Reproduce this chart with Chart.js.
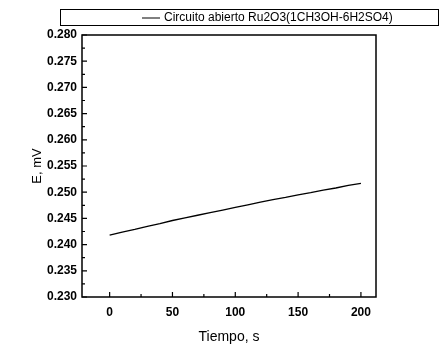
<!DOCTYPE html>
<html>
<head>
<meta charset="utf-8">
<script src="https://cdn.jsdelivr.net/npm/chart.js@4"></script>
<style>
  html, body { margin: 0; padding: 0; background: #fff; }
  #wrap { width: 440px; height: 350px; }
</style>
</head>
<body>
<div id="wrap"><canvas id="myChart" width="440" height="350"></canvas></div>
<script>
const seriesLabel = "Circuito abierto Ru2O3(1CH3OH-6H2SO4)";
const tiempo = [0, 10, 20, 30, 40, 50, 60, 70, 80, 90, 100, 110, 120, 130, 140, 150, 160, 170, 180, 190, 200];
const potencial = [0.2418, 0.2424, 0.2429, 0.2435, 0.2440, 0.2446, 0.2451, 0.2456, 0.2461, 0.2466, 0.2471,
  0.2476, 0.2481, 0.2486, 0.2490, 0.2495, 0.2499, 0.2504, 0.2508, 0.2513, 0.2517];
const xTicks = [0, 50, 100, 150, 200];
const yTicks = [0.230, 0.235, 0.240, 0.245, 0.250, 0.255, 0.260, 0.265, 0.270, 0.275, 0.280];

const FONT = "'Liberation Sans', Arial, sans-serif";

// frame, inward ticks and boxed legend, like the Origin plot
const framePlugin = {
  id: "frame",
  afterDraw(chart) {
    const ctx = chart.ctx;
    const a = chart.chartArea;
    const xs = chart.scales.x;
    const ys = chart.scales.y;
    ctx.save();
    ctx.strokeStyle = "#000";
    ctx.lineWidth = 1.5;
    ctx.strokeRect(a.left, a.top, a.right - a.left, a.bottom - a.top);

    ctx.lineWidth = 1.2;
    ctx.beginPath();
    xTicks.forEach((v, i) => {
      const px = xs.getPixelForValue(v);
      ctx.moveTo(px, a.bottom);
      ctx.lineTo(px, a.bottom - 5);
      if (i < xTicks.length - 1) {
        const mx = xs.getPixelForValue((v + xTicks[i + 1]) / 2);
        ctx.moveTo(mx, a.bottom);
        ctx.lineTo(mx, a.bottom - 3);
      }
    });
    yTicks.forEach((v, i) => {
      const py = ys.getPixelForValue(v);
      ctx.moveTo(a.left, py);
      ctx.lineTo(a.left + 5, py);
      if (i < yTicks.length - 1) {
        const my = ys.getPixelForValue((v + yTicks[i + 1]) / 2);
        ctx.moveTo(a.left, my);
        ctx.lineTo(a.left + 3, my);
      }
    });
    ctx.stroke();

    // legend box
    ctx.lineWidth = 1;
    ctx.strokeRect(60.5, 9.5, 378, 16);
    ctx.beginPath();
    ctx.moveTo(142, 18);
    ctx.lineTo(160, 18);
    ctx.stroke();
    ctx.fillStyle = "#000";
    ctx.font = "12px " + FONT;
    ctx.textBaseline = "middle";
    ctx.fillText(chart.data.datasets[0].label, 164, 18);
    ctx.restore();
  }
};

new Chart(document.getElementById("myChart"), {
  type: "line",
  data: {
    datasets: [
      {
        label: seriesLabel,
        data: tiempo.map((t, i) => ({ x: t, y: potencial[i] })),
        borderColor: "#000",
        borderWidth: 1.3,
        pointRadius: 0,
        tension: 0,
        fill: false,
      },
    ],
  },
  options: {
    responsive: false,
    animation: false,
    layout: { padding: { left: 30, right: 64, top: 35, bottom: 4 } },
    plugins: {
      legend: { display: false },
      tooltip: { enabled: false },
    },
    scales: {
      x: {
        type: "linear",
        min: -22,
        max: 212,
        afterBuildTicks: (axis) => {
          axis.ticks = xTicks.map((v) => ({ value: v }));
        },
        afterFit: (axis) => {
          axis.height = 49;
        },
        grid: { display: false, drawTicks: false },
        border: { display: false },
        ticks: {
          padding: 8,
          color: "#000",
          font: { family: FONT, size: 12, weight: "bold" },
          maxRotation: 0,
        },
        title: {
          display: true,
          text: "Tiempo, s",
          color: "#000",
          font: { family: FONT, size: 14 },
          padding: { top: 0, bottom: 0 },
        },
      },
      y: {
        min: 0.23,
        max: 0.28,
        afterBuildTicks: (axis) => {
          axis.ticks = yTicks.map((v) => ({ value: v }));
        },
        afterFit: (axis) => {
          axis.width = 52;
        },
        grid: { display: false, drawTicks: false },
        border: { display: false },
        ticks: {
          padding: 5,
          color: "#000",
          font: { family: FONT, size: 12, weight: "bold" },
          callback: (v) => Number(v).toFixed(3),
        },
        title: {
          display: true,
          text: "E, mV",
          color: "#000",
          font: { family: FONT, size: 13 },
          padding: { top: 0, bottom: 0 },
        },
      },
    },
  },
  plugins: [framePlugin],
});
</script>
</body>
</html>
